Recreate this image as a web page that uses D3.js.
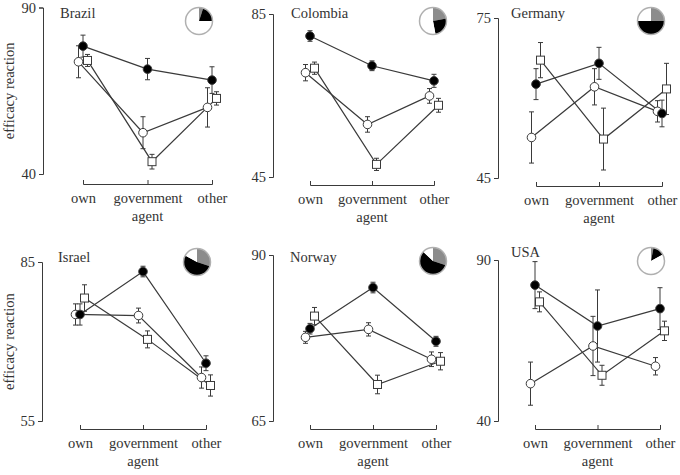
<!DOCTYPE html>
<html>
<head>
<meta charset="utf-8">
<script src="https://cdn.jsdelivr.net/npm/d3@7"></script>
<style>
  body { margin: 0; background: #fff; }
  svg text { font-family: "Liberation Serif", "DejaVu Serif", serif; fill: #333; }
</style>
</head>
<body>
<svg id="chart" width="680" height="475"></svg>
<script>
// categories on the x axis
const agents = ['own', 'government', 'other']
// three series per panel: open circle, filled circle, open square
const seriesNames = ['circle', 'filled', 'square']

// means and half error bars
const brazilFilled = [78.4, 71.5, 68.2]
const brazilFilledErr = [3.3, 3.2, 4.0]
const brazilCircle = [73.7, 52.4, 60.0]
const brazilCircleErr = [4.8, 4.8, 5.9]
const brazilSquare = [74.1, 43.7, 62.7]
const brazilSquareErr = [1.8, 2.2, 2.0]

const colombiaFilled = [79.6, 72.3, 68.6]
const colombiaFilledErr = [1.3, 1.2, 1.6]
const colombiaCircle = [70.6, 57.9, 64.9]
const colombiaCircleErr = [2.0, 1.9, 1.8]
const colombiaSquare = [71.7, 48.1, 62.6]
const colombiaSquareErr = [1.5, 1.5, 1.7]

const germanyFilled = [62.6, 66.5, 57.1]
const germanyFilledErr = [2.9, 3.0, 2.5]
const germanyCircle = [52.6, 62.1, 57.5]
const germanyCircleErr = [4.8, 3.4, 2.0]
const germanySquare = [67.1, 52.3, 61.7]
const germanySquareErr = [3.3, 5.8, 4.8]

const israelFilled = [75.1, 83.2, 65.9]
const israelFilledErr = [2.0, 1.0, 1.4]
const israelCircle = [75.1, 74.9, 63.2]
const israelCircleErr = [2.0, 1.4, 2.0]
const israelSquare = [78.2, 70.4, 61.7]
const israelSquareErr = [2.5, 1.6, 2.0]

const norwayFilled = [78.9, 85.1, 77.0]
const norwayFilledErr = [0.8, 0.8, 0.75]
const norwayCircle = [77.6, 78.8, 74.3]
const norwayCircleErr = [0.9, 1.0, 1.1]
const norwaySquare = [80.8, 70.5, 74.0]
const norwaySquareErr = [1.3, 1.4, 1.3]

const usaFilled = [82.2, 69.5, 74.9]
const usaFilledErr = [7.3, 11.2, 6.5]
const usaCircle = [51.6, 63.3, 57.0]
const usaCircleErr = [6.7, 9.2, 2.7]
const usaSquare = [77.0, 54.2, 68.0]
const usaSquareErr = [3.1, 3.1, 3.0]

// y axis tick values (ends only)
const brazilTicks = [40, 90]
const colombiaTicks = [45, 85]
const germanyTicks = [45, 75]
const israelTicks = [55, 85]
const norwayTicks = [65, 90]
const usaTicks = [40, 90]

// pie shares: grey, black, white (clockwise from 12 o'clock)
const pieColors = ['#8c8c8c', '#000000', '#ffffff']
const brazilPie = [0.05, 0.2, 0.75]
const colombiaPie = [0.22, 0.25, 0.53]
const germanyPie = [0.25, 0.5, 0.25]
const israelPie = [0.3, 0.53, 0.17]
const norwayPie = [0.3, 0.57, 0.13]
const usaPie = [0.03, 0.14, 0.83]

const panels = [
    { name: 'Brazil', ticks: brazilTicks, pie: brazilPie,
      filled: [brazilFilled, brazilFilledErr], circle: [brazilCircle, brazilCircleErr], square: [brazilSquare, brazilSquareErr],
      ax: 43, yTop: 7.5, yBot: 174, xy: 184, x0: 83, x1: 212, tx: 60, ty: 18, px: 199, py: 21, ylab: true },
    { name: 'Colombia', ticks: colombiaTicks, pie: colombiaPie,
      filled: [colombiaFilled, colombiaFilledErr], circle: [colombiaCircle, colombiaCircleErr], square: [colombiaSquare, colombiaSquareErr],
      ax: 273, yTop: 14, yBot: 177, xy: 185, x0: 310, x1: 434, tx: 291, ty: 18, px: 433, py: 21 },
    { name: 'Germany', ticks: germanyTicks, pie: germanyPie,
      filled: [germanyFilled, germanyFilledErr], circle: [germanyCircle, germanyCircleErr], square: [germanySquare, germanySquareErr],
      ax: 498, yTop: 18, yBot: 178, xy: 186, x0: 536, x1: 662, tx: 511, ty: 18, px: 651, py: 21 },
    { name: 'Israel', ticks: israelTicks, pie: israelPie,
      filled: [israelFilled, israelFilledErr], circle: [israelCircle, israelCircleErr], square: [israelSquare, israelSquareErr],
      ax: 42, yTop: 262, yBot: 421, xy: 429, x0: 80, x1: 206, tx: 58, ty: 262, px: 197, py: 262, ylab: true },
    { name: 'Norway', ticks: norwayTicks, pie: norwayPie,
      filled: [norwayFilled, norwayFilledErr], circle: [norwayCircle, norwayCircleErr], square: [norwaySquare, norwaySquareErr],
      ax: 273, yTop: 255, yBot: 421, xy: 429, x0: 310, x1: 436, tx: 290, ty: 262, px: 433, py: 261 },
    { name: 'USA', ticks: usaTicks, pie: usaPie,
      filled: [usaFilled, usaFilledErr], circle: [usaCircle, usaCircleErr], square: [usaSquare, usaSquareErr],
      ax: 498, yTop: 260, yBot: 421, xy: 429, x0: 535, x1: 660, tx: 511, ty: 257, px: 651, py: 261 },
]

const svg = d3.select('#chart')
const ink = '#3a3a3a'
const fontSize = 14.5

const dodge = d3.scalePoint().domain(seriesNames).range([-4.5, 4.5])

panels.forEach((p) => {
    const g = svg.append('g')

    const y = d3.scaleLinear().domain(p.ticks).range([p.yBot, p.yTop])
    const x = d3.scalePoint().domain(agents).range([p.x0, p.x1])

    // y axis
    const yAxis = g.append('g')
        .attr('transform', `translate(${p.ax},0)`)
        .call(d3.axisLeft(y).tickValues(p.ticks).tickSize(4).tickPadding(3))
    yAxis.selectAll('path, line').attr('stroke', ink)
    yAxis.selectAll('text').style('font-size', fontSize + 'px').attr('fill', '#333')

    // x axis, ticks pointing up
    const xAxis = g.append('g')
        .attr('transform', `translate(0,${p.xy})`)
        .call(d3.axisBottom(x).tickSize(-4).tickPadding(9))
    xAxis.selectAll('path, line').attr('stroke', ink)
    xAxis.selectAll('text').style('font-size', fontSize + 'px').attr('fill', '#333')

    g.append('text')
        .attr('x', (p.x0 + p.x1) / 2)
        .attr('y', p.xy + 37)
        .attr('text-anchor', 'middle')
        .style('font-size', fontSize + 'px')
        .text('agent')

    if (p.ylab) {
        g.append('text')
            .attr('transform', `translate(14,${(p.yTop + p.yBot) / 2}) rotate(-90)`)
            .attr('text-anchor', 'middle')
            .style('font-size', fontSize + 'px')
            .text('efficacy reaction')
    }

    // panel title
    g.append('text')
        .attr('x', p.tx)
        .attr('y', p.ty)
        .style('font-size', fontSize + 'px')
        .text(p.name)

    // series
    const series = seriesNames.map((s) => ({
        key: s,
        pts: agents.map((a, i) => ({ a, v: p[s][0][i], e: p[s][1][i] })),
    }))
    const px = (s, d) => x(d.a) + dodge(s)

    const line = (s) => d3.line().x((d) => px(s, d)).y((d) => y(d.v))

    series.forEach((s) => {
        g.append('path')
            .datum(s.pts)
            .attr('d', line(s.key))
            .attr('fill', 'none')
            .attr('stroke', ink)
            .attr('stroke-width', 1.2)
    })

    series.forEach((s) => {
        const eb = g.append('g')
        s.pts.forEach((d) => {
            const cx = px(s.key, d)
            eb.append('line')
                .attr('x1', cx).attr('x2', cx)
                .attr('y1', y(d.v - d.e)).attr('y2', y(d.v + d.e))
            eb.append('line')
                .attr('x1', cx - 2.5).attr('x2', cx + 2.5)
                .attr('y1', y(d.v - d.e)).attr('y2', y(d.v - d.e))
            eb.append('line')
                .attr('x1', cx - 2.5).attr('x2', cx + 2.5)
                .attr('y1', y(d.v + d.e)).attr('y2', y(d.v + d.e))
        })
        eb.selectAll('line').attr('stroke', ink).attr('stroke-width', 1)
    })

    series.forEach((s) => {
        if (s.key === 'square') {
            g.selectAll(null)
                .data(s.pts)
                .enter()
                .append('rect')
                .attr('x', (d) => px(s.key, d) - 4)
                .attr('y', (d) => y(d.v) - 4)
                .attr('width', 8)
                .attr('height', 8)
                .attr('fill', '#fff')
                .attr('stroke', ink)
                .attr('stroke-width', 1)
        } else {
            g.selectAll(null)
                .data(s.pts)
                .enter()
                .append('circle')
                .attr('cx', (d) => px(s.key, d))
                .attr('cy', (d) => y(d.v))
                .attr('r', 4.3)
                .attr('fill', s.key === 'filled' ? '#000' : '#fff')
                .attr('stroke', ink)
                .attr('stroke-width', 1)
        }
    })

    // pie inset
    const pie = d3.pie().sort(null)
    const arc = d3.arc().innerRadius(0).outerRadius(13.5)
    const pg = g.append('g').attr('transform', `translate(${p.px},${p.py})`)
    pg.selectAll('path')
        .data(pie(p.pie))
        .enter()
        .append('path')
        .attr('d', arc)
        .attr('fill', (d, i) => pieColors[i])
    pg.append('circle')
        .attr('r', 13.5)
        .attr('fill', 'none')
        .attr('stroke', '#b0b0b0')
        .attr('stroke-width', 1.5)
})
</script>
</body>
</html>
